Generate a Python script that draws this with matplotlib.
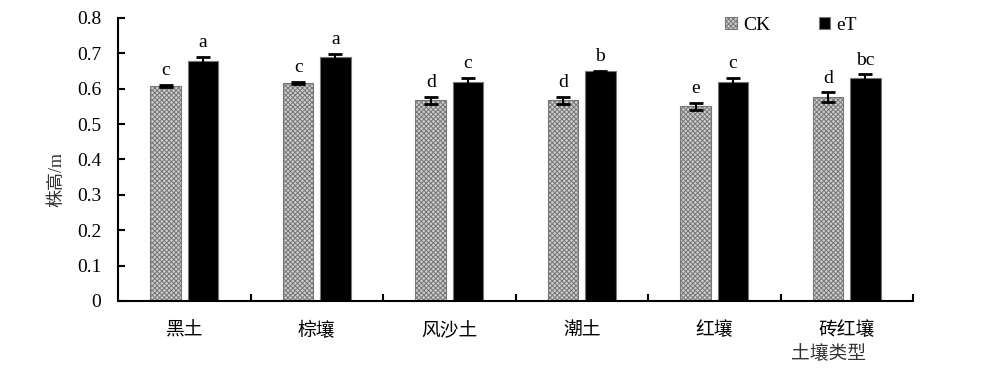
import numpy as np
import matplotlib.pyplot as plt
from matplotlib.ticker import FixedLocator, NullFormatter

plt.rcParams['font.family'] = ['Liberation Serif', 'Noto Sans CJK SC']
plt.rcParams['hatch.linewidth'] = 0.7
plt.rcParams['hatch.color'] = '#444444'

# data
soils = ['黑土', '棕壤', '风沙土', '潮土', '红壤', '砖红壤']
ck_mean = [0.608, 0.617, 0.567, 0.567, 0.550, 0.576]
ck_err = [0.002, 0.003, 0.010, 0.010, 0.010, 0.014]
et_mean = [0.679, 0.688, 0.618, 0.649, 0.618, 0.630]
et_err = [0.010, 0.010, 0.013, 0.001, 0.013, 0.010]
ck_letters = ['c', 'c', 'd', 'd', 'e', 'd']
et_letters = ['a', 'a', 'c', 'b', 'c', 'bc']

fig = plt.figure(figsize=(10.0, 3.8), dpi=100)
ax = fig.add_axes([0.118, 0.208, 0.795, 0.745])

x = np.arange(len(soils))
w = 0.23
off = 0.14

err_kw = dict(ecolor='black', elinewidth=1.5, capsize=5, capthick=2)
ax.bar(x - off, ck_mean, w, yerr=ck_err, color='#cccccc', edgecolor='#777777',
       linewidth=0.8, hatch='xxxxxxx', error_kw=err_kw, label='CK')
ax.bar(x + off, et_mean, w, yerr=et_err, color='black', edgecolor='#777777',
       linewidth=0.8, error_kw=err_kw, label='eT')

for i in range(len(soils)):
    ax.text(x[i] - off, ck_mean[i] + ck_err[i] + 0.016, ck_letters[i],
            ha='center', va='bottom', fontsize=14)
    ax.text(x[i] + off, et_mean[i] + et_err[i] + 0.016, et_letters[i],
            ha='center', va='bottom', fontsize=14)

ax.set_xlim(-0.5, len(soils) - 0.5)
ax.set_ylim(0, 0.8)
ax.set_yticks(np.arange(0, 0.81, 0.1))
ax.set_yticklabels(['0'] + [f'{v:.1f}' for v in np.arange(0.1, 0.81, 0.1)], fontsize=14)

# category labels centred, tick marks between categories
ax.set_xticks(x)
ax.set_xticklabels(soils, fontsize=13.5)
ax.tick_params(axis='x', which='major', length=0, pad=15)
ax.xaxis.set_minor_locator(FixedLocator(np.arange(0.5, len(soils), 1.0)))
ax.xaxis.set_minor_formatter(NullFormatter())
ax.tick_params(axis='x', which='minor', direction='in', length=5, width=1.5)
ax.tick_params(axis='y', direction='in', length=5, width=1.5, pad=12)

for s in ['top', 'right']:
    ax.spines[s].set_visible(False)
for s in ['left', 'bottom']:
    ax.spines[s].set_linewidth(1.5)

ax.set_ylabel('株高/m', fontsize=13, color='#333333')
ax.yaxis.set_label_coords(-0.066, 0.43)
fig.text(0.828, 0.068, '土壤类型', ha='center', va='center', fontsize=13.5, color='#333333')

ax.legend(loc='upper left', bbox_to_anchor=(0.742, 1.065), ncol=2, frameon=False,
          fontsize=14, handlelength=0.6, handleheight=0.6, handletextpad=0.3,
          columnspacing=2.5)

fig.savefig('out.png', dpi=100)
